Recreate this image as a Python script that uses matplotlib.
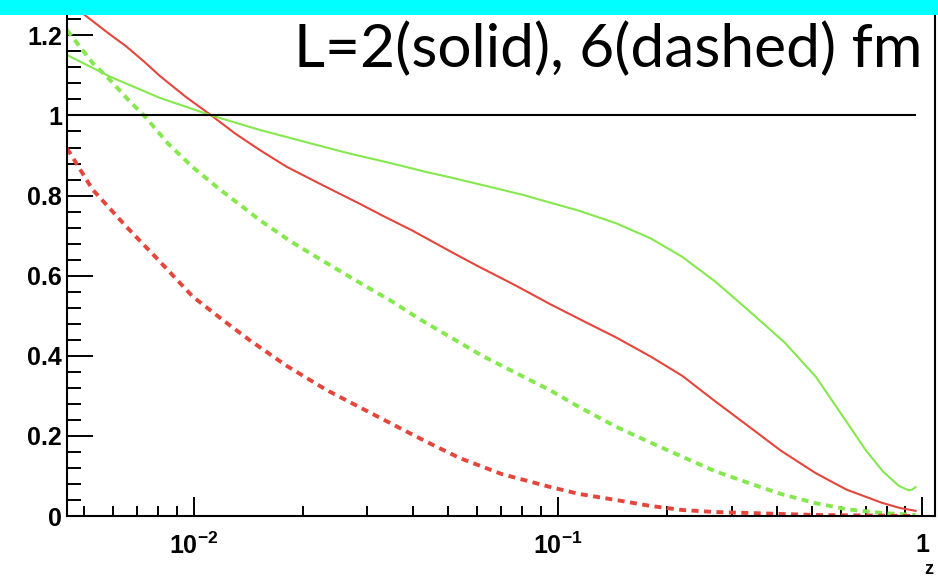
import matplotlib

matplotlib.use("Agg")
import matplotlib.pyplot as plt
from matplotlib.patches import Rectangle
from matplotlib.ticker import FixedLocator, FixedFormatter, LogLocator, MultipleLocator, NullFormatter

# ratio curves vs z, L = 2 fm (solid) and L = 6 fm (dashed)
z_red_l2 = [0.00449, 0.00502, 0.0058, 0.00654, 0.0073, 0.00807, 0.0095, 0.01119, 0.0130, 0.01518,
            0.0180, 0.02172, 0.0250, 0.02853, 0.0330, 0.040, 0.05036, 0.060, 0.07678, 0.0948,
            0.1145, 0.1445, 0.180, 0.2197, 0.270, 0.3352, 0.410, 0.5108, 0.620, 0.7762, 0.870, 0.960]
y_red_l2 = [1.285, 1.251, 1.207, 1.172, 1.135, 1.099, 1.047, 1.000, 0.955, 0.914,
            0.872, 0.834, 0.806, 0.780, 0.750, 0.712, 0.662, 0.625, 0.575, 0.530,
            0.492, 0.446, 0.398, 0.350, 0.287, 0.223, 0.163, 0.107, 0.066, 0.033, 0.020, 0.013]

z_green_l2 = [0.00449, 0.00589, 0.00807, 0.01119, 0.01518, 0.02081, 0.02679, 0.03516, 0.0430, 0.05036,
              0.0650, 0.0800, 0.0948, 0.1145, 0.1445, 0.180, 0.2197, 0.270, 0.3352, 0.420,
              0.5108, 0.600, 0.7003, 0.780, 0.8646, 0.9205, 0.940, 0.960]
y_green_l2 = [1.151, 1.097, 1.044, 1.000, 0.964, 0.931, 0.905, 0.880, 0.860, 0.846,
              0.822, 0.802, 0.783, 0.762, 0.731, 0.693, 0.647, 0.586, 0.512, 0.433,
              0.348, 0.255, 0.165, 0.112, 0.075, 0.064, 0.066, 0.072]

z_green_l6 = [0.00449, 0.00528, 0.00589, 0.0066, 0.00741, 0.0085, 0.00994, 0.0117, 0.01362, 0.01518,
              0.0185, 0.02313, 0.0285, 0.03516, 0.0420, 0.05036, 0.0620, 0.07678, 0.0948, 0.1145,
              0.1445, 0.180, 0.2197, 0.270, 0.3352, 0.410, 0.5108, 0.620, 0.7762, 0.960]
y_green_l6 = [1.213, 1.131, 1.089, 1.040, 0.994, 0.930, 0.871, 0.818, 0.772, 0.739,
              0.685, 0.632, 0.583, 0.535, 0.490, 0.448, 0.400, 0.357, 0.315, 0.272,
              0.223, 0.183, 0.148, 0.112, 0.082, 0.055, 0.032, 0.017, 0.0075, 0.0025]

z_red_l6 = [0.00449, 0.00528, 0.00654, 0.00791, 0.00994, 0.0120, 0.01425, 0.0180, 0.02313, 0.0285,
            0.0350, 0.0430, 0.0537, 0.0700, 0.0948, 0.1145, 0.1445, 0.180, 0.2197, 0.270,
            0.3352, 0.5108, 0.960]
y_red_l6 = [0.918, 0.815, 0.722, 0.644, 0.548, 0.490, 0.439, 0.375, 0.315, 0.272,
            0.230, 0.188, 0.145, 0.105, 0.073, 0.055, 0.040, 0.025, 0.015, 0.010,
            0.0075, 0.0025, 0.0]

x_ticks = [0.01, 0.1, 1.0]
x_tick_labels = ["$10^{-2}$", "$10^{-1}$", "1"]
y_ticks = [0, 0.2, 0.4, 0.6, 0.8, 1, 1.2]
y_tick_labels = ["0", "0.2", "0.4", "0.6", "0.8", "1", "1.2"]

RED = "#e4463c"
GREEN = "#84e84e"

axis_font = ["Liberation Sans", "DejaVu Sans"]
plt.rcParams["mathtext.fontset"] = "custom"
plt.rcParams["mathtext.rm"] = "Liberation Sans:bold"
plt.rcParams["mathtext.it"] = "Liberation Sans:bold"
plt.rcParams["mathtext.bf"] = "Liberation Sans:bold"

fig = plt.figure(figsize=(9.38, 5.79), dpi=100)
ax = fig.add_axes([0.0714, 0.1088, 0.9254, 0.874])

ax.plot(z_red_l2, y_red_l2, color=RED, lw=1.5)
ax.plot(z_green_l2, y_green_l2, color=GREEN, lw=1.5)
ax.plot(z_green_l6, y_green_l6, color=GREEN, lw=2.8, linestyle=(0, (1.8, 1.4)))
ax.plot(z_red_l6, y_red_l6, color=RED, lw=2.8, linestyle=(0, (1.8, 1.4)))
ax.plot([z_red_l2[0], z_red_l2[-1]], [1, 1], color="black", lw=1.5)

ax.set_xscale("log")
ax.set_xlim(0.00449, 1.086)
ax.set_ylim(0, 1.2634)

ax.xaxis.set_major_locator(FixedLocator(x_ticks))
ax.xaxis.set_major_formatter(FixedFormatter(x_tick_labels))
ax.xaxis.set_minor_locator(LogLocator(base=10, subs=range(2, 10)))
ax.xaxis.set_minor_formatter(NullFormatter())
ax.yaxis.set_major_locator(FixedLocator(y_ticks))
ax.yaxis.set_major_formatter(FixedFormatter(y_tick_labels))
ax.yaxis.set_minor_locator(MultipleLocator(0.04))

ax.tick_params(axis="both", which="both", direction="in", color="black", width=1.4,
               top=False, right=False)
ax.tick_params(axis="y", which="major", length=18.5, pad=3.5)
ax.tick_params(axis="y", which="minor", length=10)
ax.tick_params(axis="x", which="major", length=14, pad=12)
ax.tick_params(axis="x", which="minor", length=7)
for lab in ax.get_xticklabels() + ax.get_yticklabels():
    lab.set_fontfamily(axis_font)
    lab.set_fontweight("bold")
    lab.set_fontsize(18)

for sp in ax.spines.values():
    sp.set_linewidth(1.5)
    sp.set_color("black")

fig.text(929 / 938, 1 / 579, "z", family=axis_font, fontweight="bold", fontsize=13,
         ha="center", va="bottom")

fig.text(294 / 938, 1 - 67.5 / 579, "L=2(solid), 6(dashed) fm", family=["Lato", "DejaVu Sans"],
         fontsize=43.5, ha="left", va="baseline")

# cyan banner across the top edge
fig.patches.append(Rectangle((0, 1 - 15 / 579), 1, 15 / 579, transform=fig.transFigure,
                             facecolor="#00ffff", edgecolor="none", zorder=5))

fig.savefig("out.png", dpi=100)
plt.close(fig)
